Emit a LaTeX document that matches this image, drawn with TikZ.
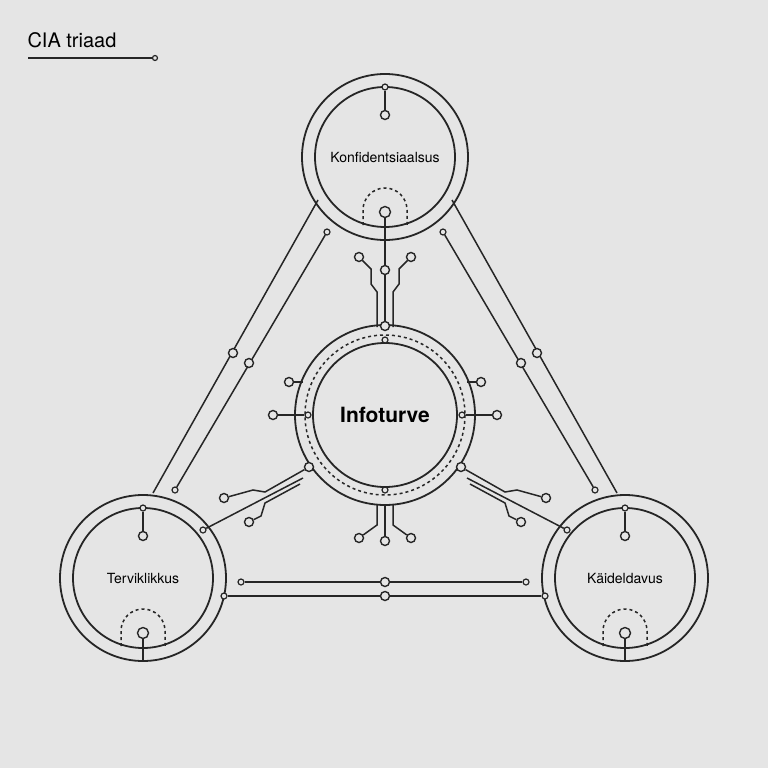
\documentclass[tikz,border=0pt]{standalone}
\usepackage{fontspec}
\setmainfont{TeX Gyre Heros}
\usetikzlibrary{calc}
\tikzset{
  wire/.style={line width=1.5pt,black!85},
  ring/.style={line width=1.8pt,black!85},
  pin/.style={circle,draw=black!85,line width=1.4pt,fill=white!90!black,inner sep=0pt,minimum size=9pt},
  dot/.style={circle,draw=black!85,line width=1.2pt,fill=white!90!black,inner sep=0pt,minimum size=6pt},
  label/.style={font=\fontsize{14}{16}\selectfont}
}
\begin{document}
\begin{tikzpicture}[x=1pt,y=-1pt]
  \fill[black!10] (0,0) rectangle (768,768);
  \useasboundingbox (0,0) rectangle (768,768);

  % title
  \node[anchor=west,font=\fontsize{20}{23}\selectfont] (title) at (24,40) {CIA triaad};
  \node[dot,minimum size=5pt] (tend) at (155,58) {};
  \draw[wire] (28,58) -- (tend);

  % rings
  \coordinate (T) at (385,157);
  \coordinate (C) at (385,415);
  \coordinate (L) at (143,578);
  \coordinate (R) at (625,578);
  \foreach \c in {T,L,R}{
    \draw[ring] (\c) circle (83);
    \draw[ring] (\c) circle (70);
  }
  \draw[ring] (C) circle (90);
  \draw[wire,dashed] (C) circle (80);
  \draw[ring] (C) circle (72);

  \node[label] (konf) at (T) {Konfidentsiaalsus};
  \node[label] (terv) at (L) {Terviklikkus};
  \node[label] (kaid) at (R) {Käideldavus};
  \node[font=\fontsize{21}{24}\selectfont\bfseries] (info) at (C) {Infoturve};

  % stubs inside the outer rings
  \foreach \c/\n in {T/t,L/l,R/r}{
    \node[dot] (\n top) at ($(\c)+(0,-70)$) {};
    \node[pin] (\n mid) at ($(\c)+(0,-42)$) {};
    \draw[wire] (\n top) -- (\n mid);
    \node[pin,minimum size=11pt] (\n low) at ($(\c)+(0,55)$) {};
    \draw[wire] (\n low) -- ++(0,27);
    \draw[wire,dashed] ($(\c)+(-22,68)$) -- ++(0,-15) arc (180:360:22) -- ++(0,15);
  }

  % top spoke
  \node[pin] (sA) at (385,270) {};
  \node[pin] (sB) at (385,326) {};
  \node[dot] (sC) at (385,340) {};
  \draw[wire] (tlow) -- (sA) -- (sB);
  \foreach \s in {1,-1}{
    \node[pin] (br\s) at ($(385,257)+(\s*26,0)$) {};
    \draw[wire] ($(385,327)+(\s*8,0)$) -- ++(0,-35) -- ++(\s*6,-8) -- ++(0,-15) -- (br\s);
  }
  % bottom spoke
  \node[dot] (sD) at (385,490) {};
  \node[pin] (sE) at (385,541) {};
  \draw[wire] (385,505) -- (sE);
  \foreach \s in {1,-1}{
    \node[pin] (bb\s) at ($(385,538)+(\s*26,0)$) {};
    \draw[wire] ($(385,505)+(\s*8,0)$) -- ++(0,20) -- (bb\s);
  }
  % side spokes
  \foreach \s in {1,-1}{
    \node[pin] (sh\s) at ($(385,415)+(\s*112,0)$) {};
    \node[dot] (sd\s) at ($(385,415)+(\s*77,0)$) {};
    \draw[wire] (sd\s) -- (sh\s);
    \node[pin] (su\s) at ($(385,382)+(\s*96,0)$) {};
    \draw[wire] ($(385,382)+(\s*82,0)$) -- (su\s);
  }
  % lower diagonal spokes
  \foreach \s in {1,-1}{
    \node[pin] (dg\s) at ($(385,467)+(\s*76,0)$) {};
    \node[dot] (de\s) at ($(385,530)+(\s*182,0)$) {};
    \draw[wire] ($(385,478)+(\s*82,0)$) -- (de\s);
    \node[pin] (dq\s) at ($(385,498)+(\s*161,0)$) {};
    \draw[wire] (dg\s) -- ($(385,492)+(\s*120,0)$) -- ($(385,490)+(\s*132,0)$) -- (dq\s);
    \node[pin] (dr\s) at ($(385,522)+(\s*136,0)$) {};
    \draw[wire] ($(385,484)+(\s*85,0)$) -- ($(385,503)+(\s*120,0)$) -- ($(385,516)+(\s*124,0)$) -- (dr\s);
  }

  % triangle sides
  \foreach \s in {1,-1}{
    \draw[wire] ($(385,200)+(\s*67,0)$) -- ($(385,493)+(\s*232,0)$);
    \node[dot] (ed\s) at ($(385,232)+(\s*58,0)$) {};
    \node[dot] (ee\s) at ($(385,490)+(\s*210,0)$) {};
    \draw[wire] (ed\s) -- (ee\s);
    \node[pin] (ea\s) at ($(385,353)+(\s*152,0)$) {};
    \node[pin] (eb\s) at ($(385,363)+(\s*136,0)$) {};
  }

  % bottom side
  \node[dot] (bl1) at (241,582) {};
  \node[dot] (br1x) at (526,582) {};
  \node[pin] (bm1) at (385,582) {};
  \draw[wire] (bl1) -- (bm1) -- (br1x);
  \node[dot] (bl2) at (224,596) {};
  \node[dot] (br2x) at (545,596) {};
  \node[pin] (bm2) at (385,596) {};
  \draw[wire] (bl2) -- (bm2) -- (br2x);
\end{tikzpicture}
\end{document}
